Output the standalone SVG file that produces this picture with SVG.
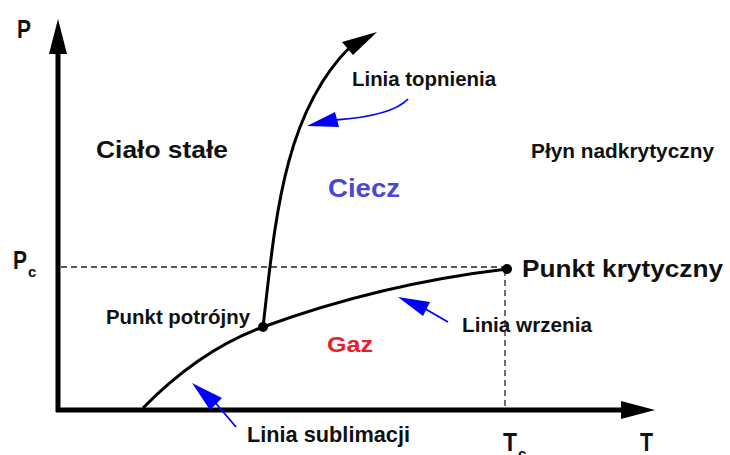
<svg xmlns="http://www.w3.org/2000/svg" width="730" height="455" viewBox="0 0 730 455">
<style>
text{font-family:"Liberation Sans",Arial,sans-serif;font-weight:bold;fill:#111}
.axis{stroke:#000;stroke-width:5;fill:none}
.curve{stroke:#000;stroke-width:3;fill:none}
.dash{stroke:#222;stroke-width:1.3;stroke-dasharray:6 4;fill:none}
.blue{stroke:#0000ff;stroke-width:1.8;fill:none}
.bhead{fill:#0000ff}
.khead{fill:#000}
</style>
<rect width="730" height="455" fill="#fff"/>
<g id="connectors">
  <line class="dash" x1="61" y1="267" x2="505" y2="267"/>
  <line class="dash" x1="505" y1="270" x2="505" y2="407"/>
  <line class="axis" x1="58" y1="412" x2="58" y2="50"/>
  <polygon class="khead" points="58,19 49,54 67,54"/>
  <line class="axis" x1="56" y1="410" x2="625" y2="410"/>
  <polygon class="khead" points="655,410 621,401 621,419"/>
  <path class="curve" d="M143,408 Q200,350 263,327 Q380,284 507,269"/>
  <path class="curve" d="M263,327 C275,225 282,115 350,47"/>
  <polygon class="khead" points="377,32 342,42 353,55"/>
  <path class="blue" d="M408,99 Q392,116 335,120"/>
  <polygon class="bhead" points="307,126 335,112 339,127"/>
  <line class="blue" x1="448" y1="322" x2="422" y2="307"/>
  <polygon class="bhead" points="398,297 430,302 423,316"/>
  <line class="blue" x1="236" y1="427" x2="213" y2="400"/>
  <polygon class="bhead" points="192,383 222,398 210,410"/>
</g>
<g id="triple-point"><circle cx="263" cy="327" r="5" fill="#000"/><text x="106" y="324" font-size="20" textLength="144" lengthAdjust="spacingAndGlyphs">Punkt potrójny</text></g>
<g id="critical-point"><circle cx="507" cy="269" r="5" fill="#000"/><text x="522" y="277" font-size="24" textLength="201" lengthAdjust="spacingAndGlyphs">Punkt krytyczny</text></g>
<g id="solid"><text x="96" y="158" font-size="24" textLength="132" lengthAdjust="spacingAndGlyphs">Ciało stałe</text></g>
<g id="liquid"><text x="328" y="197" font-size="25" textLength="72" lengthAdjust="spacingAndGlyphs" style="fill:#4848d4">Ciecz</text></g>
<g id="gas"><text x="327" y="352" font-size="22" textLength="46" lengthAdjust="spacingAndGlyphs" style="fill:#e8202a">Gaz</text></g>
<g id="supercritical"><text x="531" y="158" font-size="21" textLength="183" lengthAdjust="spacingAndGlyphs">Płyn nadkrytyczny</text></g>
<g id="melting-label"><text x="352" y="86" font-size="21" textLength="144" lengthAdjust="spacingAndGlyphs">Linia topnienia</text></g>
<g id="boiling-label"><text x="462" y="332" font-size="21" textLength="130" lengthAdjust="spacingAndGlyphs">Linia wrzenia</text></g>
<g id="sublimation-label"><text x="247" y="442" font-size="22" textLength="163" lengthAdjust="spacingAndGlyphs">Linia sublimacji</text></g>
<g id="axis-labels">
  <text x="17" y="38" font-size="26" textLength="14" lengthAdjust="spacingAndGlyphs">P</text>
  <text x="13" y="269" font-size="26" textLength="14" lengthAdjust="spacingAndGlyphs">P</text>
  <text x="28" y="277" font-size="15">c</text>
  <text x="640" y="451" font-size="26" textLength="13" lengthAdjust="spacingAndGlyphs">T</text>
  <text x="503" y="451" font-size="26" textLength="14" lengthAdjust="spacingAndGlyphs">T</text>
  <text x="518" y="459" font-size="15">c</text>
</g>
</svg>
